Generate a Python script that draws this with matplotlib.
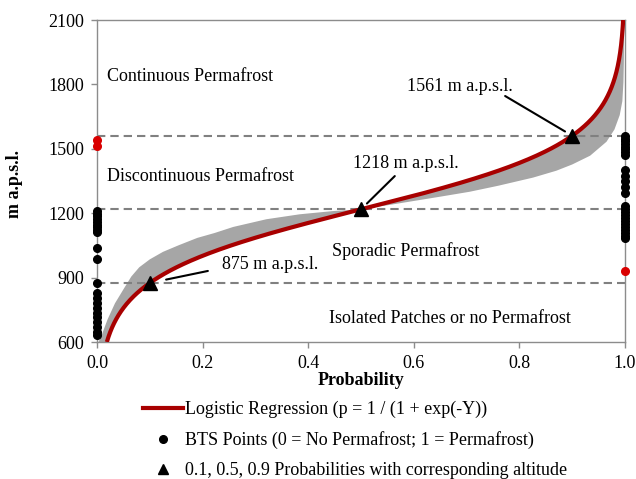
import numpy as np
import matplotlib
matplotlib.use("Agg")
import matplotlib.pyplot as plt
from matplotlib.lines import Line2D

plt.rcParams['font.family'] = ['Liberation Serif', 'DejaVu Serif']

# --- data ---
alt_p10 = 875     # altitude at p = 0.1
alt_p50 = 1218    # altitude at p = 0.5
alt_p90 = 1561    # altitude at p = 0.9
key_probs = [0.1, 0.5, 0.9]
key_alts = [alt_p10, alt_p50, alt_p90]

# BTS points (0 = no permafrost, 1 = permafrost)
bts0_black = [1210, 1198, 1185, 1172, 1160, 1147, 1135, 1122, 1112, 1036, 987,
              873, 827, 803, 780, 757, 735, 718, 695, 671, 648, 633]
bts0_red = [1541, 1514]
bts1_black = [1560, 1548, 1535, 1522, 1510, 1497, 1485, 1472, 1400, 1375, 1350,
              1322, 1293, 1232, 1218, 1205, 1192, 1178, 1165, 1150, 1137, 1122,
              1108, 1095, 1085]
bts1_red = [933]

# outer edge of the grey band (probability, altitude)
band_p = [0.003, 0.009, 0.02, 0.034, 0.05, 0.065, 0.08, 0.1, 0.125, 0.154, 0.19,
          0.223, 0.258, 0.321, 0.384, 0.447, 0.5, 0.55, 0.6, 0.65, 0.706, 0.76,
          0.826, 0.87, 0.9, 0.934, 0.965, 0.98, 0.99, 0.995, 0.997, 0.9978, 0.9985]
band_alt = [600, 633, 705, 780, 845, 905, 948, 985, 1020, 1050, 1085,
            1108, 1136, 1172, 1195, 1210, 1218, 1237, 1257, 1277, 1300, 1328,
            1366, 1398, 1427, 1468, 1533, 1590, 1657, 1722, 1810, 1900, 2100]

zone_labels = ["Continuous Permafrost", "Discontinuous Permafrost",
               "Sporadic Permafrost", "Isolated Patches or no Permafrost"]

# logistic regression: p = 1 / (1 + exp(-Y)),  Y = slope * (alt - alt_p50)
slope = np.log(9) / (alt_p50 - alt_p10)
alt_curve = np.linspace(600, 2100, 600)
p_curve = 1 / (1 + np.exp(-slope * (alt_curve - alt_p50)))

fig = plt.figure(figsize=(6.36, 4.79), dpi=100)
ax = fig.add_axes([0.1525, 0.286, 0.8302, 0.6722])

red = '#A80000'
grey_line = '#8C8C8C'

# grey band: outer edge then back along the regression curve
poly_x = list(band_p) + list(p_curve[::-1])
poly_y = list(band_alt) + list(alt_curve[::-1])
ax.fill(poly_x, poly_y, color='#A6A6A6', lw=0, zorder=1)

for a in key_alts:
    ax.axhline(a, color='#808080', lw=1.5, ls=(0, (4, 2.4)), zorder=2)

ax.plot(p_curve, alt_curve, color=red, lw=3, zorder=3, solid_capstyle='butt')

ax.plot([0] * len(bts0_black), bts0_black, 'o', color='black', ms=5.5, clip_on=False, zorder=5)
ax.plot([1] * len(bts1_black), bts1_black, 'o', color='black', ms=5.5, clip_on=False, zorder=5)
ax.plot([0] * len(bts0_red), bts0_red, 'o', color='#D90000', ms=5.5, clip_on=False, zorder=5)
ax.plot([1] * len(bts1_red), bts1_red, 'o', color='#D90000', ms=5.5, clip_on=False, zorder=5)

ax.plot(key_probs, key_alts, '^', color='black', ms=10, zorder=6)

# labels for the 0.1 / 0.5 / 0.9 altitudes
fs = 13
lbl_pos = [(0.236, 959), (0.4855, 1432), (0.587, 1790)]
line_start = [(0.210, 931), (0.564, 1373), (0.773, 1746)]
shrink = [12, 6, 6]
for a, pr, (tx, ty), st, sh in zip(key_alts, key_probs, lbl_pos, line_start, shrink):
    ax.text(tx, ty, "%d m a.p.s.l." % a, fontsize=fs, va='center', ha='left', zorder=7)
    ax.annotate('', xy=(pr, a), xytext=st,
                arrowprops=dict(arrowstyle='-', color='black', lw=1.5,
                                shrinkA=0, shrinkB=sh), zorder=7)

ax.text(0.0184, 1839, zone_labels[0], fontsize=fs, va='center', ha='left')
ax.text(0.0184, 1373, zone_labels[1], fontsize=fs, va='center', ha='left')
ax.text(0.445, 1024, zone_labels[2], fontsize=fs, va='center', ha='left')
ax.text(0.44, 710, zone_labels[3], fontsize=fs, va='center', ha='left')

ax.set_xlim(0, 1)
ax.set_ylim(600, 2100)
ax.set_xticks(np.arange(0, 1.01, 0.2))
ax.set_xticklabels(["%.1f" % v for v in np.arange(0, 1.01, 0.2)])
ax.set_yticks(np.arange(600, 2101, 300))
ax.tick_params(direction='out', length=4, width=1, color=grey_line, labelsize=fs, pad=5)
for s in ax.spines.values():
    s.set_color(grey_line)
    s.set_linewidth(1)

ax.set_xlabel("Probability", fontsize=fs, fontweight='bold', labelpad=0)
ax.set_ylabel("m a.p.s.l.", fontsize=fs, fontweight='bold')
ax.yaxis.set_label_coords(-0.14, 0.49)

handles = [Line2D([], [], color=red, lw=3),
           Line2D([], [], ls='none', marker='o', color='black', ms=5.5),
           Line2D([], [], ls='none', marker='^', color='black', ms=7.5)]
labels = ["Logistic Regression (p = 1 / (1 + exp(-Y))",
          "BTS Points (0 = No Permafrost; 1 = Permafrost)",
          "0.1, 0.5, 0.9 Probabilities with corresponding altitude"]
fig.legend(handles, labels, loc='upper left', bbox_to_anchor=(143 / 636, 1 - 401 / 479),
           frameon=False, fontsize=fs, handlelength=2.2, handletextpad=0.1,
           borderpad=0, borderaxespad=0, labelspacing=0.72)

fig.savefig("out.png", dpi=100)
